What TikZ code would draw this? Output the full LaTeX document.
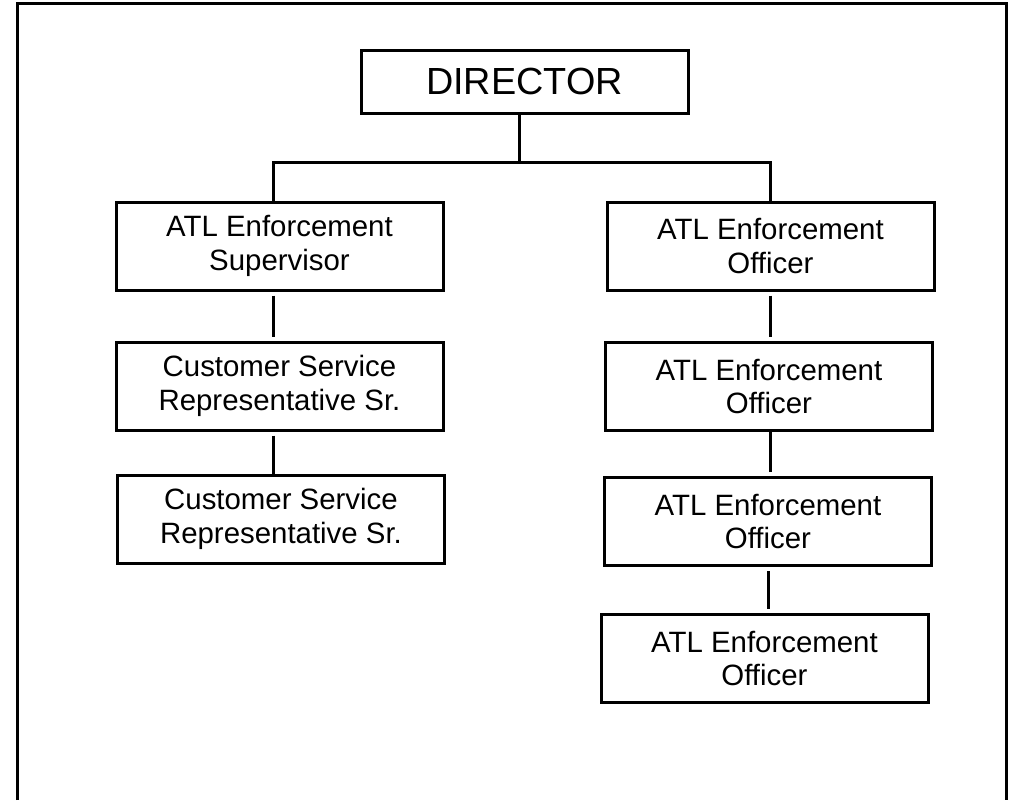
\documentclass[tikz,border=0pt]{standalone}
\usepackage{fontspec}
\setmainfont{Liberation Sans}
\tikzset{
  postbox/.style={draw, line width=1.5pt, minimum width=163.5pt, minimum height=44pt,
    align=center, inner sep=2pt, font=\fontsize{14.7}{16.7}\selectfont},
  link/.style={line width=1.5pt},
  gaplink/.style={link, shorten <=2pt, shorten >=2pt}
}

\begin{document}
\begin{tikzpicture}[x=0.5pt, y=-0.5pt]
  \useasboundingbox (0,0) rectangle (1024,800);

  % Page frame
  \draw[link] (17,800) -- (17,3.5) -- (1006,3.5) -- (1006,800);

  % Director
  \node[postbox, minimum height=31.5pt, font=\fontsize{18.9}{20}\selectfont] (director) at (524.5,81.5) {DIRECTOR};

  % Left column
  \node[postbox] (sup) at (279.5,246) {ATL Enforcement\\Supervisor};
  \node[postbox] (csr1) at (279.5,386) {Customer Service\\Representative Sr.};
  \node[postbox] (csr2) at (281,519) {Customer Service\\Representative Sr.};

  % Right column
  \node[postbox] (off1) at (770.5,246) {ATL Enforcement\\Officer};
  \node[postbox] (off2) at (769,386.5) {ATL Enforcement\\Officer};
  \node[postbox] (off3) at (768,521.5) {ATL Enforcement\\Officer};
  \node[postbox] (off4) at (764.5,658.5) {ATL Enforcement\\Officer};

  % Bus under the director
  \coordinate (busL) at (273.5,162);
  \coordinate (busR) at (770,162);
  \draw[link] ([xshift=-2.75pt]director.south) -- ([xshift=-2.75pt]director.south |- busL);
  \draw[link] (busL |- sup.north) -- (busL) -- (busR) -- (busR |- off1.north);

  % Chains
  \draw[gaplink] (sup.south -| busL) -- (csr1.north -| busL);
  \draw[link, shorten <=2pt] (csr1.south -| busL) -- (csr2.north -| busL);
  \draw[gaplink] (off1.south -| busR) -- (off2.north -| busR);
  \draw[link, shorten >=2pt] (off2.south -| busR) -- (off3.north -| busR);
  \draw[gaplink] (off3.south -| off3) -- (off4.north -| off3);
\end{tikzpicture}
\end{document}
